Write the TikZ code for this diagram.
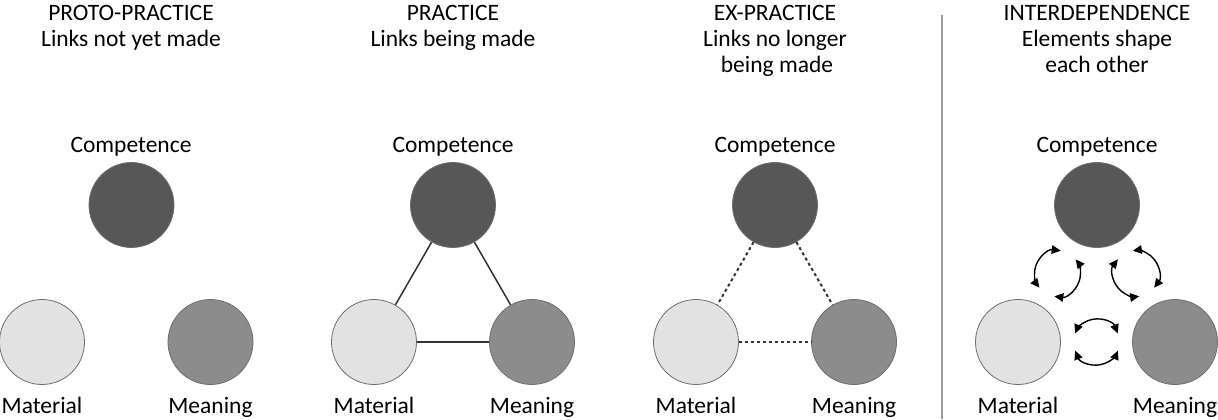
\documentclass[tikz,border=0pt]{standalone}
\usepackage{fontspec}
\setmainfont{Carlito}
\usetikzlibrary{arrows.meta,calc}

\definecolor{compcol}{HTML}{575757}
\definecolor{matcol}{HTML}{E2E2E2}
\definecolor{meancol}{HTML}{8C8C8C}
\definecolor{rimcol}{HTML}{6E6E6E}
\definecolor{linkcol}{HTML}{333333}
\definecolor{sepcol}{HTML}{9A9A9A}

\begin{document}
\begin{tikzpicture}[x=1bp,y=-1bp,
  elem/.style={circle,minimum size=85bp,inner sep=0pt,draw=rimcol,line width=0.8bp},
  compnode/.style={elem,fill=compcol},
  matnode/.style={elem,fill=matcol},
  meannode/.style={elem,fill=meancol},
  lbl/.style={anchor=base,inner sep=0pt,font=\fontsize{23.5bp}{26bp}\selectfont},
  solidlink/.style={draw=linkcol,line width=1.5bp},
  dottedlink/.style={draw=linkcol,line width=2bp,dash pattern=on 3bp off 3bp},
  swap/.style={draw=black,line width=1.4bp,{Triangle[length=9bp,width=8.5bp]}-{Triangle[length=9bp,width=8.5bp]}},
  divider/.style={draw=sepcol,line width=1.2bp}
]
\useasboundingbox[fill=white] (0,0) rectangle (1218,419);

% ---- Proto-practice ----
\node[lbl] (t1a) at (131,20) {PROTO-PRACTICE};
\node[lbl] (t1b) at (131,46) {Links not yet made};
\node[lbl] (l1c) at (131,152) {Competence};
\node[compnode] (c1) at (131.5,205) {};
\node[matnode]  (a1) at (42,342) {};
\node[meannode] (m1) at (210.5,342) {};
\node[lbl] (l1a) at (42,413) {Material};
\node[lbl] (l1m) at (210.5,413) {Meaning};

% ---- Practice ----
\node[lbl] (t2a) at (453,20) {PRACTICE};
\node[lbl] (t2b) at (453,46) {Links being made};
\node[lbl] (l2c) at (453,152) {Competence};
\node[compnode] (c2) at (453,205) {};
\node[matnode]  (a2) at (374,342) {};
\node[meannode] (m2) at (532,342) {};
\node[lbl] (l2a) at (374,413) {Material};
\node[lbl] (l2m) at (532,413) {Meaning};
\draw[solidlink] (c2) -- (a2);
\draw[solidlink] (c2) -- (m2);
\draw[solidlink] (a2) -- (m2);

% ---- Ex-practice ----
\node[lbl] (t3a) at (775,20) {EX-PRACTICE};
\node[lbl] (t3b) at (775,46) {Links no longer};
\node[lbl] (t3c) at (777,72) {being made};
\node[lbl] (l3c) at (775,152) {Competence};
\node[compnode] (c3) at (775,205) {};
\node[matnode]  (a3) at (696,342) {};
\node[meannode] (m3) at (854,342) {};
\node[lbl] (l3a) at (696,413) {Material};
\node[lbl] (l3m) at (854,413) {Meaning};
\draw[dottedlink] (c3) -- (a3);
\draw[dottedlink] (c3) -- (m3);
\draw[dottedlink] (a3) -- (m3);

% ---- divider ----
\coordinate (sepTop) at (942,15);
\coordinate (sepBot) at (942,419);
\draw[divider] (sepTop) -- (sepBot);

% ---- Interdependence ----
\node[lbl] (t4a) at (1097,20) {INTERDEPENDENCE};
\node[lbl] (t4b) at (1097,46) {Elements shape};
\node[lbl] (t4c) at (1097,72) {each other};
\node[lbl] (l4c) at (1097,152) {Competence};
\node[compnode] (c4) at (1097,205) {};
\node[matnode]  (a4) at (1018,342) {};
\node[meannode] (m4) at (1175,342) {};
\node[lbl] (l4a) at (1018,413) {Material};
\node[lbl] (l4m) at (1175,413) {Meaning};

% paired curved arrows midway between each pair of elements
\coordinate (ac) at ($(a4)!0.5!(c4)$);
\coordinate (cm) at ($(c4)!0.5!(m4)$);
\coordinate (am) at ($(a4)!0.5!(m4)$);
\def\rr{23bp}
\draw[swap] ([shift={(82:\rr)}]ac) arc[start angle=82,end angle=218,radius=\rr];
\draw[swap] ([shift={(262:\rr)}]ac) arc[start angle=262,end angle=398,radius=\rr];
\draw[swap] ([shift={(142:\rr)}]cm) arc[start angle=142,end angle=278,radius=\rr];
\draw[swap] ([shift={(322:\rr)}]cm) arc[start angle=322,end angle=458,radius=\rr];
\draw[swap] ([shift={(22:\rr)}]am) arc[start angle=22,end angle=158,radius=\rr];
\draw[swap] ([shift={(202:\rr)}]am) arc[start angle=202,end angle=338,radius=\rr];
\end{tikzpicture}
\end{document}
